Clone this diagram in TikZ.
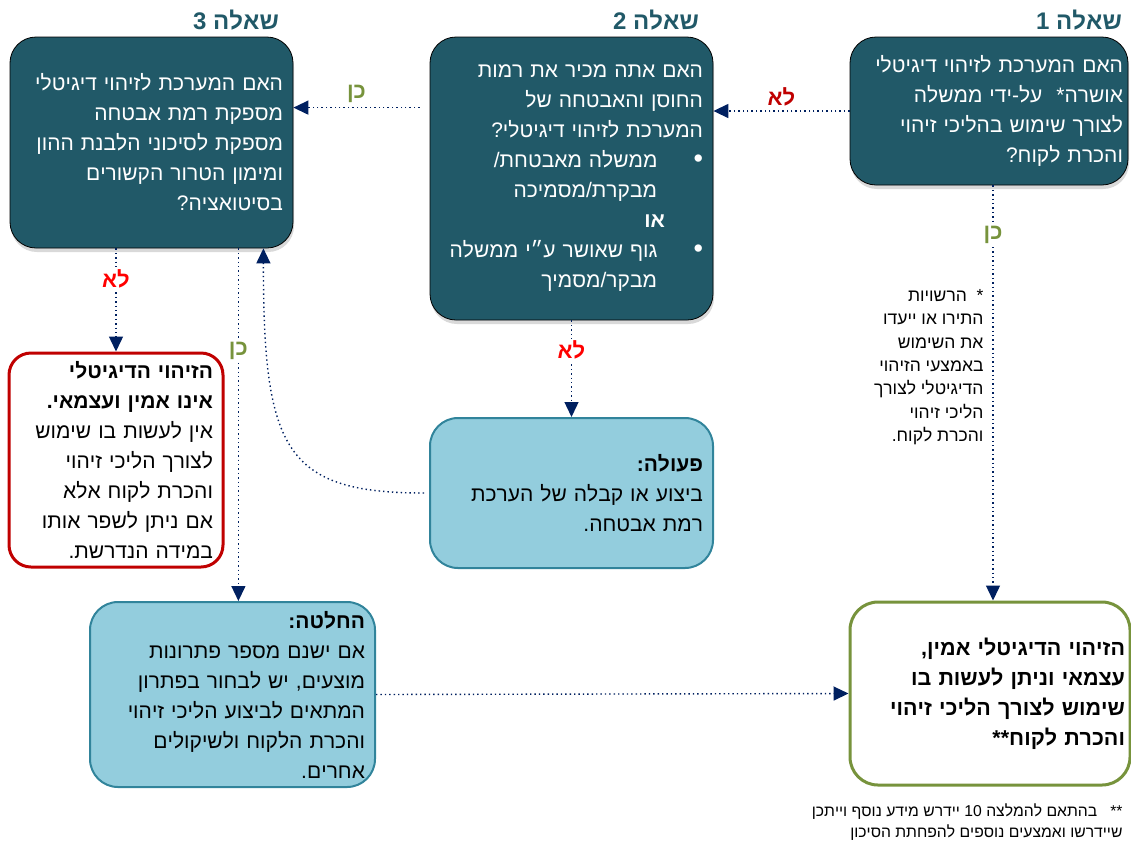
\documentclass[tikz,border=0pt]{standalone}
\usepackage{fontspec}
\setmainfont{Liberation Sans}
\usetikzlibrary{arrows.meta,shadows}
\TeXXeTstate=1
\newcommand\heb[1]{\beginR#1\endR}
\newcommand\bul{{\fontsize{27}{30}\selectfont\textbullet}}
\definecolor{qteal}{HTML}{215968}
\definecolor{lblue}{HTML}{93CDDD}
\definecolor{lborder}{HTML}{31849B}
\definecolor{navy}{HTML}{002060}
\definecolor{nored}{HTML}{FF0000}
\definecolor{darkred}{HTML}{C00000}
\definecolor{yesgreen}{HTML}{77933C}
\tikzset{
  box/.style={align=right,inner xsep=10pt,inner ysep=0pt,font=\fontsize{21}{30}\selectfont},
  qbox/.style={box,draw=black,line width=.8pt,fill=qteal,text=white,rounded corners=26pt,
    drop shadow={shadow xshift=1pt,shadow yshift=-4pt,opacity=.3}},
  abox/.style={box,draw=lborder,line width=2pt,fill=lblue,rounded corners=28pt},
  nobox/.style={box,draw=darkred,line width=3pt,fill=white,rounded corners=22pt},
  okbox/.style={box,draw=yesgreen,line width=3pt,fill=white,rounded corners=28pt},
  qtitle/.style={anchor=south east,text=qteal,font=\fontsize{24}{28}\selectfont\bfseries},
  arr/.style={draw=navy,line width=1.4pt,dash pattern=on 1.4pt off 3pt,-{Triangle[length=15pt,width=14pt]}},
  lbl/.style={font=\fontsize{22}{26}\selectfont\bfseries,fill=white,inner sep=1pt},
  small/.style={align=right,anchor=north east,font=\fontsize{17.5}{23.3}\selectfont}
}
\begin{document}
\begin{tikzpicture}[x=1pt,y=-1pt]
\useasboundingbox (0,0) rectangle (1131,844);
% questions
\node[qbox,minimum height=148pt,text width=268pt,inner xsep=5pt] (q1) at (989,111)
  {\heb{האם המערכת לזיהוי דיגיטלי}\\\heb{אושרה*\ \ על-ידי ממשלה}\\\heb{לצורך שימוש בהליכי זיהוי}\\\heb{והכרת לקוח?}};
\node[qbox,minimum height=283pt,text width=263pt] (q2) at (571.5,178.5)
  {\heb{האם אתה מכיר את רמות}\\\heb{החוסן והאבטחה של}\\\heb{המערכת לזיהוי דיגיטלי?}\\
   \heb{\bul\hspace*{36pt}ממשלה מאבטחת/}\\\heb{\hspace*{46pt}מבקרת/מסמיכה}\\
   \heb{\hspace*{38pt}\textbf{או}}\\
   \heb{\bul\hspace*{36pt}גוף שאושר ע״י ממשלה}\\\heb{\hspace*{46pt}מבקר/מסמיך}};
\node[qbox,minimum height=211pt,text width=263pt] (q3) at (151.5,142.5)
  {\heb{האם המערכת לזיהוי דיגיטלי}\\\heb{מספקת רמת אבטחה}\\\heb{מספקת לסיכוני הלבנת ההון}\\\heb{ומימון הטרור הקשורים}\\\heb{בסיטואציה?}};
\node[qtitle] (t1) at ([xshift=-3pt,yshift=3pt]q1.north east) {\heb{שאלה 1}};
\node[qtitle] (t2) at ([xshift=-11pt,yshift=3pt]q2.north east) {\heb{שאלה 2}};
\node[qtitle] (t3) at ([xshift=-11pt,yshift=3pt]q3.north east) {\heb{שאלה 3}};
% outcomes
\node[nobox,minimum height=214pt,text width=194pt] (no) at (116,460)
  {\heb{\textbf{הזיהוי הדיגיטלי}}\\\heb{\textbf{אינו אמין ועצמאי.}}\\\heb{אין לעשות בו שימוש}\\\heb{לצורך הליכי זיהוי}\\\heb{והכרת לקוח אלא}\\\heb{אם ניתן לשפר אותו}\\\heb{במידה הנדרשת.}};
\node[abox,minimum height=150pt,text width=263pt] (act) at (571.5,493)
  {\heb{\textbf{פעולה:}}\\\heb{ביצוע או קבלה של הערכת}\\\heb{רמת אבטחה.}};
\node[abox,minimum height=185pt,text width=265pt] (dec) at (232.5,694.5)
  {\heb{\textbf{החלטה:}}\\\heb{אם ישנם מספר פתרונות}\\\heb{מוצעים, יש לבחור בפתרון}\\\heb{המתאים לביצוע הליכי זיהוי}\\\heb{והכרת הלקוח ולשיקולים}\\\heb{אחרים.}};
\node[okbox,minimum height=183pt,text width=270pt,inner xsep=5pt,font=\fontsize{21.5}{30}\selectfont] (ok) at (990,693.5)
  {\bfseries\heb{הזיהוי הדיגיטלי אמין,}\\\heb{עצמאי וניתן לעשות בו}\\\heb{שימוש לצורך הליכי זיהוי}\\\heb{והכרת לקוח**}};
% notes
\node[small] (note) at (987,286)
  {\heb{*\ \ הרשויות}\\\heb{התירו או ייעדו}\\\heb{את השימוש}\\\heb{באמצעי הזיהוי}\\\heb{הדיגיטלי לצורך}\\\heb{הליכי זיהוי}\\\heb{והכרת לקוח.}};
\node[small,font=\fontsize{15.7}{21}\selectfont] (fn) at (1126,800)
  {\heb{**\ \ \ בהתאם להמלצה \beginL10\endL{} יידרש מידע נוסף וייתכן}\\\heb{שיידרשו ואמצעים נוספים להפחתת הסיכון}};
% arrows
\draw[arr] (q1.west) -- (q1.west -| q2.east) node[lbl,text=darkred,midway,above=3pt] (l1) {\heb{לא}};
\draw[arr] ([xshift=-10pt,yshift=-71pt]q2.north west) -- ([yshift=-71pt]q3.north east)
  node[lbl,text=yesgreen,midway,above=3pt] (l2) {\heb{כן}};
\draw[arr] ([xshift=4pt]q1.south) -- ([xshift=3pt]ok.north) node[lbl,text=yesgreen,pos=.12] (l3) {\heb{כן}};
\draw[arr] (q2.south) -- (act.north) node[lbl,text=nored,pos=.31] (l4) {\heb{לא}};
\draw[arr] (no.north |- q3.south) -- (no.north) node[lbl,text=nored,pos=.3] (l5) {\heb{לא}};
\draw[arr] ([xshift=-55pt]q3.south east) -- ([xshift=-55pt]q3.south east |- dec.north)
  node[lbl,text=yesgreen,pos=.29] (l6) {\heb{כן}};
\draw[arr] ([xshift=-5pt]act.west) .. controls +(-140,0) and +(0,200) .. ([xshift=-30pt]q3.south east);
\draw[arr] (dec.east) -- (ok.west);
\end{tikzpicture}
\end{document}
